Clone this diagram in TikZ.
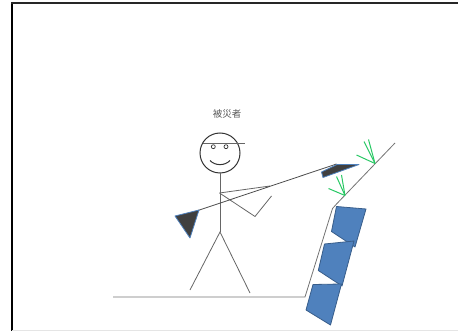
\documentclass[tikz,border=0pt]{standalone}
\usepackage{fontspec}
\newfontfamily\cjk{Noto Sans CJK JP}
\usepackage{tikz}
\usetikzlibrary{positioning}
\definecolor{rockblue}{RGB}{79,129,189}
\definecolor{rockedge}{RGB}{56,93,138}
\definecolor{grassgreen}{RGB}{40,200,100}
\definecolor{flaggray}{RGB}{64,64,64}

\begin{document}
\begin{tikzpicture}[x=1pt,y=-1pt]
\tikzstyle{stick}=[draw=black!60,line width=0.8pt]
\tikzstyle{rock}=[fill=rockblue,draw=rockedge,line width=0.8pt,line join=round]
\tikzstyle{flag}=[fill=flaggray,draw=rockblue,line width=0.8pt,line join=round]
\tikzstyle{grass}=[draw=grassgreen,line width=1pt]

\useasboundingbox (0,0) rectangle (458,331);

% frame
\draw[black,line width=2.5pt] (12,2) -- (12,331);
\draw[black!85,line width=2pt] (11,3) -- (458,3);
\draw[black!10,line width=1pt] (12,330) -- (458,330);

% the person
\node[draw=black!80,circle,line width=1pt,minimum size=40pt,inner sep=0pt] (head) at (220,153) {};
\node[text=black!65,font=\cjk\fontsize{9.5}{10}\selectfont] (victim) at (227,114) {被災者};
\draw[stick] (203,143) -- (245,143);
\draw[black!80,line width=0.7pt] (213.3,146.7) circle [radius=2];
\draw[black!80,line width=0.7pt] (226,146.7) circle [radius=2];
\draw[black!80,line width=1pt] (210,160.5) .. controls (215,166) and (225,166) .. (230,160.5);

\coordinate (hip) at (220,232);
\coordinate (lfoot) at (190,290);
\coordinate (rfoot) at (250,293);
\coordinate (shoulder) at (219.5,193);
\coordinate (elbow) at (255,216.5);
\coordinate (hand) at (271.5,196);
\coordinate (reach) at (270,186);

\draw[stick] (head.south) -- (hip);
\draw[stick] (lfoot) -- (hip) -- (rfoot);
\draw[stick] (shoulder) -- (elbow) -- (hand);
\draw[stick] (shoulder) -- (reach);

% pole with two flags
\coordinate (poleL) at (198,210.5);
\coordinate (poleR) at (336.5,164);
\draw[draw=black!70,line width=0.8pt] (poleL) -- (poleR);
\draw[flag] (175,216) -- (199,210) -- (190,238) -- cycle;
\draw[flag] (321.5,172) -- (337,164.5) -- (359,164.5) -- (323,177.5) -- cycle;

% ground and slope
\coordinate (g0) at (113,297);
\coordinate (g1) at (305,297);
\coordinate (g2) at (332.5,208.5);
\coordinate (g3) at (337,203.5);
\coordinate (g4) at (395,143);
\draw[draw=black!55,line width=0.8pt] (g0) -- (g1) -- (g2) -- (g3) -- (g4);

% grass on the slope
\coordinate (tuftA) at (375,163.5);
\coordinate (tuftB) at (345,195.5);
\foreach \p in {(356.5,155),(364,141.5),(368.5,139.5)}
  \draw[grass] \p -- (tuftA);
\foreach \p in {(328.5,188.5),(336.5,176.5),(341.5,175)}
  \draw[grass] \p -- (tuftB);

% falling rocks
\draw[rock] (336.5,206.5) -- (366,209) -- (355,247) -- (331.5,231.5) -- cycle;
\draw[rock] (324.5,244) -- (354,241) -- (342,286) -- (318.3,270.5) -- cycle;
\draw[rock] (313,284.5) -- (341.5,284) -- (330.5,325) -- (306,310) -- cycle;
\end{tikzpicture}
\end{document}
